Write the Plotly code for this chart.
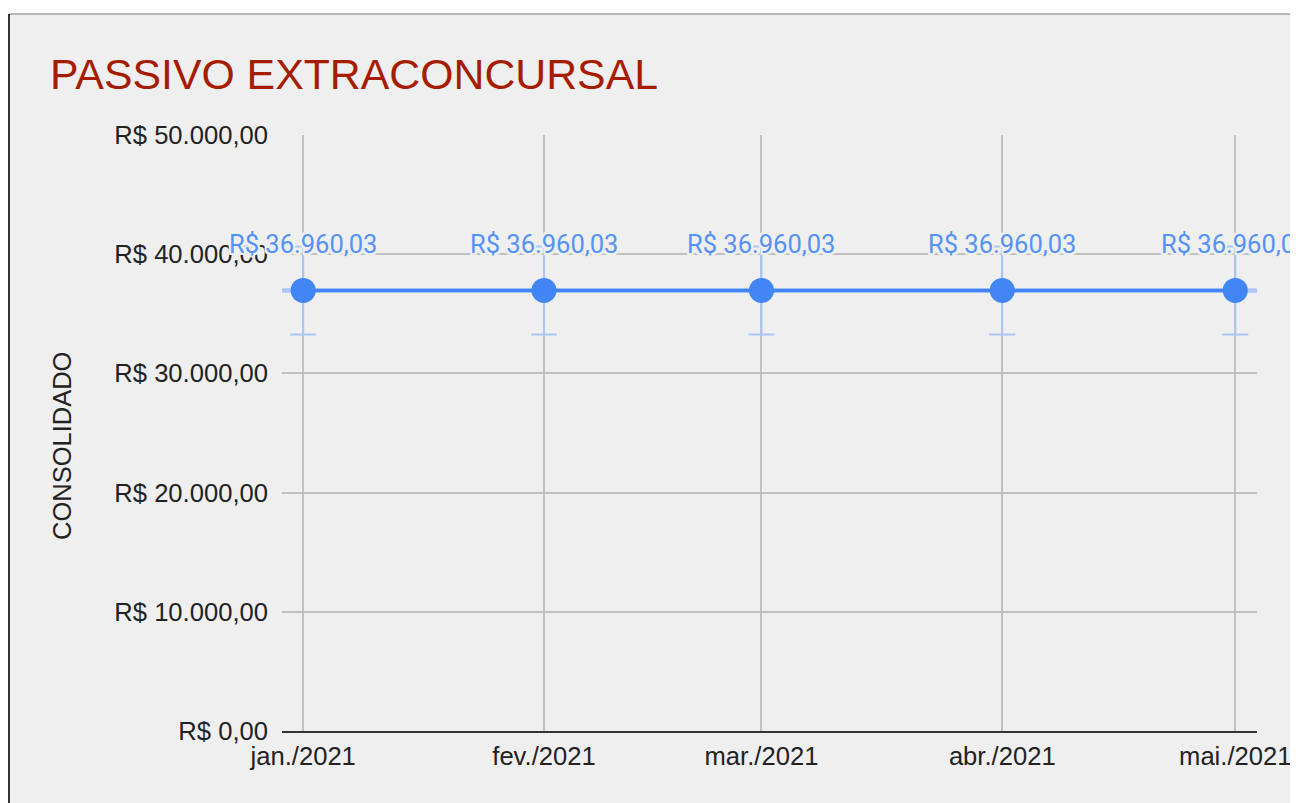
import numpy as np
import pandas as pd
import plotly.graph_objects as go

# ---- data ----
months = ["2021-01-01", "2021-02-01", "2021-03-01", "2021-04-01", "2021-05-01"]
month_labels = ["jan./2021", "fev./2021", "mar./2021", "abr./2021", "mai./2021"]
values = [36960.03, 36960.03, 36960.03, 36960.03, 36960.03]
error_percent = 10
y_ticks = [0, 10000, 20000, 30000, 40000, 50000]

title_text = "PASSIVO EXTRACONCURSAL"
y_title = "CONSOLIDADO"

# ---- layout constants (page has an 8px body margin) ----
OFF = 8
W, H = 1298 - OFF, 803 - OFF
PL, PR, PT, PB = 282, 1257, 135, 731      # plot area in window pixels
L, R, T, B = PL - OFF, W - (PR - OFF), PT - OFF, H - (PB - OFF)
x_range = ["2020-12-29 06:30", "2021-05-03 19:10"]

def px2x(px):
    return (px - PL) / (PR - PL)

def py2y(py):
    return (PB - py) / (PB - PT)

BG = "#efefef"
BLUE = "#4285f4"
LIGHT = "#aac6f8"

def fmt_brl(v):
    s = f"{v:,.2f}"
    s = s.replace(",", "X").replace(".", ",").replace("X", ".")
    return "R$ " + s

y_ticktext = [fmt_brl(v) for v in y_ticks]

# trendline (linear fit over time), evaluated at axis ends
t = pd.to_datetime(months)
days = (t - t[0]).days.values.astype(float)
coef = np.polyfit(days, values, 1)
ends = pd.to_datetime(x_range)
end_days = (ends - t[0]).total_seconds().values / 86400.0
trend_y = np.polyval(coef, end_days)

fig = go.Figure()

fig.add_trace(go.Scatter(
    x=list(ends), y=list(trend_y), mode="lines",
    line=dict(color=LIGHT, width=4.5), hoverinfo="skip", showlegend=False,
))

fig.add_trace(go.Scatter(
    x=months, y=values, mode="lines+markers",
    line=dict(color=BLUE, width=3.5),
    marker=dict(color=BLUE, size=25),
    error_y=dict(type="percent", value=error_percent, color=LIGHT,
                 thickness=2, width=13),
    showlegend=False,
))

halo = ", ".join(f"{dx}px {dy}px 0 {BG}" for dx in (-2, 0, 2) for dy in (-2, 0, 2) if dx or dy)
annotations = []
for m, v in zip(months, values):
    annotations.append(dict(
        x=m, y=v, xref="x", yref="y", text=fmt_brl(v), showarrow=False,
        yshift=46, font=dict(family="Roboto", size=25.5, color="#5592f6", shadow=halo),
    ))

annotations.append(dict(
    x=px2x(62), y=py2y(446), xref="paper", yref="paper", text=y_title,
    showarrow=False, textangle=-90, xanchor="center", yanchor="middle",
    font=dict(family="Liberation Sans, Arial", size=25.5, color="#222222"),
))

shapes = [
    dict(type="rect", xref="paper", yref="paper", layer="below",
         x0=px2x(9), x1=px2x(1297), y0=py2y(820), y1=py2y(14),
         fillcolor=BG, line=dict(width=0)),
    dict(type="line", xref="paper", yref="paper",
         x0=px2x(9), x1=px2x(1297), y0=py2y(14), y1=py2y(14),
         line=dict(color="#a0a0a0", width=1.5)),
    dict(type="line", xref="paper", yref="paper",
         x0=px2x(9), x1=px2x(9), y0=py2y(820), y1=py2y(14),
         line=dict(color="#333333", width=2)),
    dict(type="line", xref="paper", yref="paper",
         x0=px2x(1297), x1=px2x(1297), y0=py2y(820), y1=py2y(14),
         line=dict(color="#a0a0a0", width=1)),
]

fig.update_layout(
    width=W, height=H,
    margin=dict(l=L, r=R, t=T, b=B, pad=0),
    paper_bgcolor="white", plot_bgcolor=BG,
    separators=",.",
    font=dict(family="Liberation Sans, Arial", color="#222222"),
    title=dict(text=title_text, x=(50 - OFF) / W, xref="container", xanchor="left",
               y=1 - (74 - OFF) / H, yref="container", yanchor="middle",
               font=dict(family="Liberation Sans, Arial", size=42.8, color="#a61c00")),
    annotations=annotations,
    shapes=shapes,
    xaxis=dict(
        type="date", range=x_range,
        tickvals=months, ticktext=month_labels,
        showgrid=True, gridcolor="#c0c0c0", gridwidth=1.5,
        showline=True, linecolor="#333333", linewidth=2,
        ticks="", ticklabelstandoff=1, automargin=False,
        tickfont=dict(size=25.6, color="#222222"),
        zeroline=False, fixedrange=True,
    ),
    yaxis=dict(
        range=[0, 50000], tickvals=y_ticks, ticktext=y_ticktext,
        showgrid=True, gridcolor="#c0c0c0", gridwidth=1.5,
        zeroline=False, showline=False, ticks="",
        ticklabelstandoff=13, automargin=False,
        tickfont=dict(size=25.6, color="#222222"),
    ),
)

fig.write_html("out.html")
